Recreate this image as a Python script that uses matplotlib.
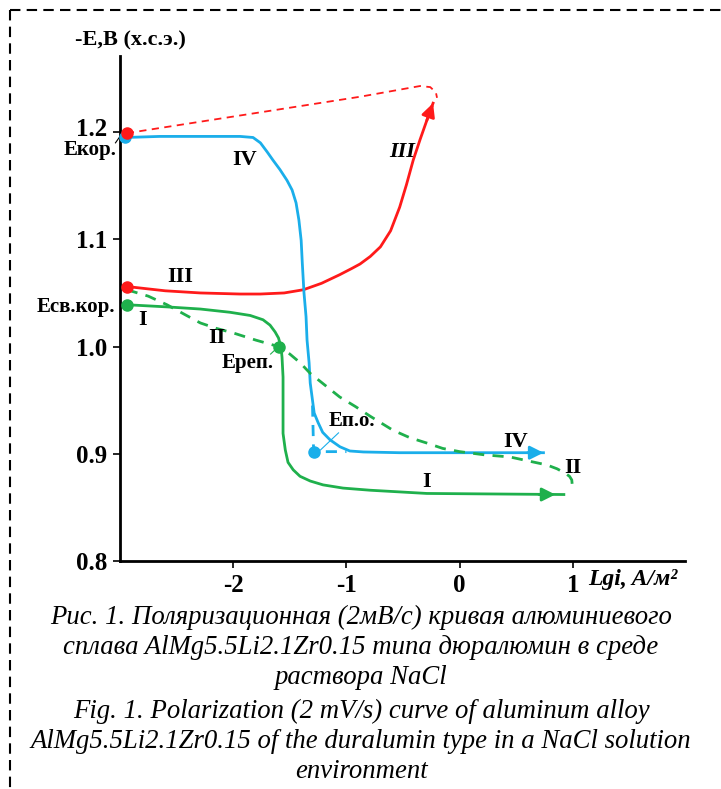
import matplotlib

matplotlib.use("Agg")
import matplotlib.pyplot as plt  # noqa: E402
from matplotlib.lines import Line2D  # noqa: E402
from matplotlib.transforms import ScaledTranslation  # noqa: E402

# curve IV (blue, solid)
iv_x = [-2.95, -2.65, -2.30, -2.12, -1.94, -1.825, -1.76, -1.70, -1.65, -1.587, -1.525,
        -1.48, -1.445, -1.42, -1.40, -1.39, -1.375, -1.357, -1.348, -1.33, -1.32, -1.30,
        -1.285, -1.25, -1.21, -1.145, -1.057, -0.97, -0.85, -0.53, 0.0, 0.74]
iv_y = [1.195, 1.196, 1.196, 1.196, 1.196, 1.195, 1.190, 1.1815, 1.174, 1.165, 1.155,
        1.146, 1.134, 1.118, 1.099, 1.078, 1.050, 1.028, 1.006, 0.985, 0.966, 0.950,
        0.938, 0.929, 0.920, 0.913, 0.9065, 0.9026, 0.9017, 0.901, 0.901, 0.901]

# curve III (red, solid) and its dashed return
iii_x = [-2.94, -2.60, -2.29, -1.94, -1.76, -1.55, -1.38, -1.22, -1.06, -0.95, -0.88,
         -0.79, -0.70, -0.61, -0.53, -0.47, -0.41, -0.35, -0.29, -0.235]
iii_y = [1.056, 1.052, 1.050, 1.049, 1.049, 1.050, 1.053, 1.059, 1.067, 1.073, 1.077,
         1.084, 1.093, 1.108, 1.130, 1.151, 1.174, 1.193, 1.211, 1.227]
iii_back_x = [-2.94, -0.88, -0.35, -0.26, -0.21, -0.20]
iii_back_y = [1.199, 1.233, 1.243, 1.242, 1.237, 1.232]

# curve I (green, solid)
i_x = [-2.94, -2.585, -2.29, -2.03, -1.85, -1.737, -1.675, -1.63, -1.60, -1.578, -1.569,
       -1.56, -1.56, -1.56, -1.54, -1.516, -1.47, -1.41, -1.32, -1.207, -1.03, -0.79,
       -0.29, 0.92]
i_y = [1.039, 1.037, 1.035, 1.032, 1.029, 1.025, 1.020, 1.0136, 1.008, 0.9996, 0.990,
       0.9716, 0.9437, 0.919, 0.9035, 0.892, 0.885, 0.879, 0.8746, 0.871, 0.868, 0.866,
       0.863, 0.862]

# curve II (green, dashed)
ii_x = [-2.94, -2.75, -2.585, -2.43, -2.29, -2.15, -2.0, -1.80, -1.60, -1.50, -1.41,
        -1.32, -1.19, -1.06, -0.92, -0.79, -0.59, -0.44, -0.29, -0.15, 0.0, 0.22,
        0.445, 0.62, 0.77, 0.86, 0.93, 0.97, 0.99, 0.995, 0.99]
ii_y = [1.053, 1.047, 1.039, 1.030, 1.022, 1.017, 1.0127, 1.006, 1.000, 0.993, 0.985,
        0.975, 0.964, 0.953, 0.944, 0.935, 0.922, 0.915, 0.910, 0.905, 0.902, 0.899,
        0.897, 0.893, 0.8896, 0.886, 0.882, 0.879, 0.8756, 0.870, 0.866]

# E p.o. dashed marks (blue)
po_x = [-1.30, -1.29, -1.00]
po_y = [0.945, 0.902, 0.902]

y_ticks = [0.8, 0.9, 1.0, 1.1, 1.2]
x_ticks = [-2, -1, 0, 1]

caption = [
    "Рис. 1. Поляризационная (2мВ/с) кривая алюминиевого",
    "сплава AlMg5.5Li2.1Zr0.15 типа дюралюмин в среде",
    "раствора NaCl",
    "Fig. 1. Polarization (2 mV/s) curve of aluminum alloy",
    "AlMg5.5Li2.1Zr0.15 of the duralumin type in a NaCl solution",
    "environment",
]

BLUE = "#1aaeea"
RED = "#ff1a1a"
GREEN = "#1fb04c"
SERIF = "Liberation Serif"

W, H = 721, 789
fig = plt.figure(figsize=(W / 100, H / 100), dpi=100)
ax = fig.add_axes([120 / W, 1 - 561 / H, 565 / W, 505 / H])
ax.set_xlim(-3, 1.99)
ax.set_ylim(0.8, 1.271)

for side in ("top", "right"):
    ax.spines[side].set_visible(False)
for side in ("left", "bottom"):
    ax.spines[side].set_linewidth(2)

ax.set_xticks(x_ticks)
ax.set_xticklabels([str(t) for t in x_ticks])
ax.set_yticks(y_ticks)
ax.set_yticklabels([f"{t:.1f}" for t in y_ticks])
ax.tick_params(direction="out", length=5, width=1.2, pad=4)
for lab in ax.get_xticklabels() + ax.get_yticklabels():
    lab.set_fontfamily(SERIF)
    lab.set_fontweight("bold")
    lab.set_fontsize(18)
# the 1.2 label sits a little higher to leave room for "Екор."
top_lab = ax.get_yticklabels()[-1]
top_lab.set_transform(top_lab.get_transform()
                      + ScaledTranslation(0, 5 / 100, fig.dpi_scale_trans))

lw = 2.0
ax.plot(iii_back_x, iii_back_y, color=RED, lw=1.3, ls=(0, (4, 3)))
ax.plot(iii_x, iii_y, color=RED, lw=lw)
ax.plot(iv_x, iv_y, color=BLUE, lw=lw)
ax.plot(po_x, po_y, color=BLUE, lw=lw, ls=(0, (4, 3)))
ax.plot(ii_x, ii_y, color=GREEN, lw=lw, ls=(0, (4, 3)))
ax.plot(i_x, i_y, color=GREEN, lw=lw)


def arrow(x0, y0, x1, y1, color):
    ax.annotate("", xy=(x1, y1), xytext=(x0, y0),
                arrowprops=dict(arrowstyle="-|>", color=color, lw=lw,
                                mutation_scale=20, shrinkA=0, shrinkB=0))


arrow(iii_x[-2], iii_y[-2], iii_x[-1], iii_y[-1], RED)
arrow(0.60, 0.901, iv_x[-1], iv_y[-1], BLUE)
arrow(0.70, 0.862, 0.845, 0.862, GREEN)

# points
dot = dict(marker="o", ms=8, ls="none", clip_on=False, zorder=5)
ax.plot([-2.96], [1.195], color=BLUE, **dot)
ax.plot([-2.94, -2.94], [1.199, 1.056], color=RED, **dot)
ax.plot([-2.94, -1.60], [1.039, 1.000], color=GREEN, **dot)
ax.plot([-1.29], [0.902], color=BLUE, **dot)

txt = dict(family=SERIF, fontweight="bold", fontsize=16, ha="center", va="center")
ax.text(-1.90, 1.174, "IV", **txt)
ax.text(-2.47, 1.065, "III", **txt)
ax.text(-0.51, 1.181, "III", style="italic", **txt)
ax.text(-2.80, 1.025, "I", **txt)
ax.text(-2.14, 1.008, "II", **txt)
ax.text(0.49, 0.911, "IV", **txt)
ax.text(1.00, 0.887, "II", **txt)
ax.text(-0.29, 0.874, "I", **txt)

lbl = dict(family=SERIF, fontweight="bold", fontsize=15, va="center")
ax.text(-3.03, 1.183, "Екор.", ha="right", clip_on=False, **lbl)
ax.text(-3.04, 1.037, "Есв.кор.", ha="right", clip_on=False, **lbl)
ax.text(-1.87, 0.985, "Ереп.", ha="center", **lbl)
ax.text(-0.95, 0.931, "Еп.о.", ha="center", **lbl)

ax.plot([-3.04, -3.0], [1.190, 1.196], color="black", lw=0.8, clip_on=False)
ax.plot([-1.67, -1.60], [0.993, 1.0], color=GREEN, lw=0.8)
ax.plot([-1.07, -1.23], [0.9195, 0.9035], color=BLUE, lw=0.8)

fig.text(130 / W, 1 - 40 / H, "-E,B (х.с.э.)", family=SERIF, fontweight="bold",
         fontsize=16, ha="center", va="center")
fig.text(588 / W, 1 - 580 / H, "Lgi, A/м²", family=SERIF, fontweight="bold",
         style="italic", fontsize=17, ha="left", va="center")

cap_y = [617, 648, 678, 711, 742, 771]
for line, y in zip(caption, cap_y):
    fig.text(361 / W, 1 - y / H, line, family=SERIF, style="italic", fontsize=19.3,
             ha="center", va="center")

# dashed frame (top and left edges visible)
frame = dict(color="black", lw=1.5, ls=(0, (5, 3)), transform=fig.transFigure)
fig.add_artist(Line2D([10 / W, 1.0], [1 - 10 / H, 1 - 10 / H], **frame))
fig.add_artist(Line2D([10 / W, 10 / W], [1 - 10 / H, 0.0], **frame))

fig.savefig("out.png", dpi=100)
